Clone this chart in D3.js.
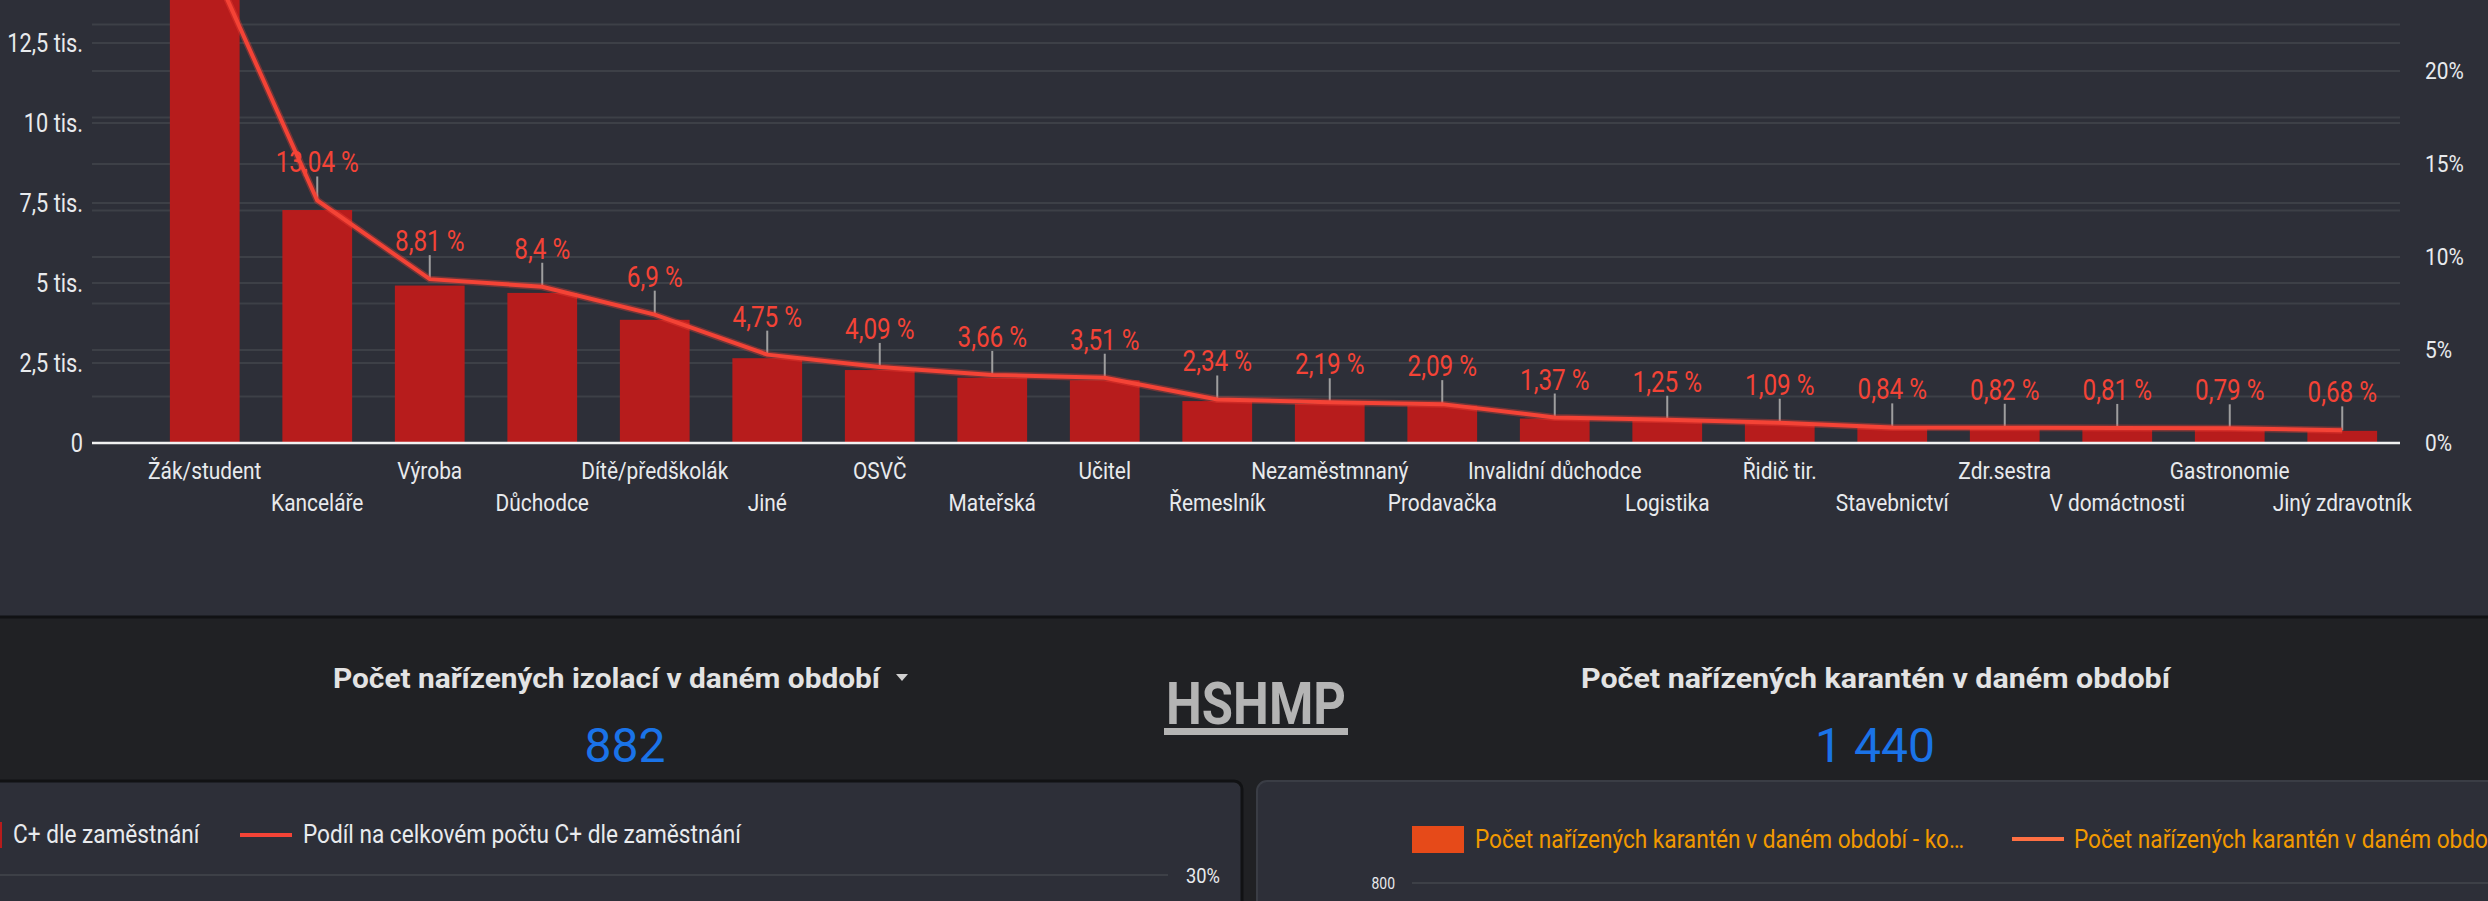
<!DOCTYPE html>
<html>
<head>
<meta charset="utf-8">
<script src="https://cdnjs.cloudflare.com/ajax/libs/d3/7.8.5/d3.min.js"></script>
<style>
  html, body { margin: 0; padding: 0; background: #202124; overflow: hidden; }
  svg { display: block; }
  text { font-family: Roboto, "Noto Sans", sans-serif; }
</style>
</head>
<body>
<div id="chart"></div>
<script>
// occupations (top 20), sorted by count
var categories = ["Žák/student", "Kanceláře", "Výroba", "Důchodce", "Dítě/předškolák", "Jiné", "OSVČ",
  "Mateřská", "Učitel", "Řemeslník", "Nezaměstmnaný", "Prodavačka", "Invalidní důchodce", "Logistika",
  "Řidič tir.", "Stavebnictví", "Zdr.sestra", "V domáctnosti", "Gastronomie", "Jiný zdravotník"];

// C+ dle zaměstnání (count)
var counts = [14800, 7280, 4920, 4690, 3850, 2650, 2280, 2040, 1960, 1310,
  1220, 1170, 765, 700, 610, 470, 458, 452, 441, 380];

// Podíl na celkovém počtu C+ dle zaměstnání (%)
var shares = [26.56, 13.04, 8.81, 8.4, 6.9, 4.75, 4.09, 3.66, 3.51, 2.34,
  2.19, 2.09, 1.37, 1.25, 1.09, 0.84, 0.82, 0.81, 0.79, 0.68];

var leftTicks = [0, 2500, 5000, 7500, 10000, 12500];
var rightTicks = [0, 5, 10, 15, 20];
var rightGrid = [2.5, 5, 7.5, 10, 12.5, 15, 17.5, 20, 22.5];

var isolationTitle = "Počet nařízených izolací v daném období";
var isolationValue = "882";
var quarantineTitle = "Počet nařízených karantén v daném období";
var quarantineValue = "1 440";
var brand = "HSHMP";
var legendLeft = ["C+ dle zaměstnání", "Podíl na celkovém počtu C+ dle zaměstnání"];
var legendRight = ["Počet nařízených karantén v daném období - ko…", "Počet nařízených karantén v daném období - kontakty"];

var W = 2488, H = 901;
var K = 0.87; // squeeze Roboto into a condensed look

var svg = d3.select("#chart").append("svg")
    .attr("width", W)
    .attr("height", H);

svg.append("rect").attr("width", W).attr("height", H).attr("fill", "#202124");

// panels
svg.append("rect")
    .attr("x", -20).attr("y", -30).attr("width", W + 40).attr("height", 647)
    .attr("rx", 8)
    .attr("fill", "#2d2f38").attr("stroke", "#111214").attr("stroke-width", 3);
svg.append("rect")
    .attr("x", -20).attr("y", 781).attr("width", 1262).attr("height", 200)
    .attr("rx", 8)
    .attr("fill", "#2d2f38").attr("stroke", "#111214").attr("stroke-width", 3);
svg.append("rect")
    .attr("x", 1257).attr("y", 781).attr("width", 1300).attr("height", 200)
    .attr("rx", 10)
    .attr("fill", "#2d2f38").attr("stroke", "#3a3d45").attr("stroke-width", 2);

function label(parent, str, x, y, size, fill, anchor, k) {
  return parent.append("text")
      .attr("transform", "translate(" + x + "," + y + ") scale(" + (k || K) + ",1)")
      .attr("text-anchor", anchor || "start")
      .attr("font-size", size)
      .attr("fill", fill)
      .text(str);
}

// ---- main pareto chart ----
var x0 = 92, x1 = 2400, base = 443;

var xscale = d3.scaleBand()
    .domain(categories)
    .range([148.5, 2398.5])
    .paddingInner(0.38)
    .paddingOuter(0.19);

var yleft = d3.scaleLinear().domain([0, 15000]).range([base, -37]);
var yright = d3.scaleLinear().domain([0, 25]).range([base, -22]);

var chart = svg.append("g");

// gridlines
chart.selectAll(".gl")
    .data(leftTicks.filter(d => d > 0))
    .enter().append("line")
    .attr("x1", x0).attr("x2", x1)
    .attr("y1", d => yleft(d)).attr("y2", d => yleft(d))
    .attr("stroke", "#3d4047").attr("stroke-width", 2);
chart.selectAll(".gr")
    .data(rightGrid)
    .enter().append("line")
    .attr("x1", x0).attr("x2", x1)
    .attr("y1", d => yright(d)).attr("y2", d => yright(d))
    .attr("stroke", "#3d4047").attr("stroke-width", 2);

// bars
chart.selectAll(".bar")
    .data(categories)
    .enter().append("rect")
    .attr("x", d => xscale(d))
    .attr("width", xscale.bandwidth())
    .attr("y", (d, i) => yleft(counts[i]))
    .attr("height", (d, i) => base - yleft(counts[i]))
    .attr("fill", "#b71c1c");

// baseline
chart.append("line")
    .attr("x1", x0).attr("x2", x1)
    .attr("y1", base).attr("y2", base)
    .attr("stroke", "#f1f1f1").attr("stroke-width", 2.5);

// left axis
var leftAxis = chart.append("g")
    .attr("transform", "translate(" + x0 + ",0)")
    .call(d3.axisLeft(yleft)
        .tickValues(leftTicks)
        .tickSize(0)
        .tickFormat(d => d == 0 ? "0" : String(d / 1000).replace(".", ",") + " tis."));
leftAxis.select(".domain").remove();
leftAxis.selectAll("text")
    .attr("x", null)
    .attr("transform", "translate(-9,0) scale(" + K + ",1)")
    .attr("font-size", 25)
    .attr("font-family", "Roboto")
    .attr("fill", "#e8eaed");

// right axis
var rightAxis = chart.append("g")
    .attr("transform", "translate(" + x1 + ",0)")
    .call(d3.axisRight(yright)
        .tickValues(rightTicks)
        .tickSize(0)
        .tickFormat(d => d + "%"));
rightAxis.select(".domain").remove();
rightAxis.selectAll("text")
    .attr("x", null)
    .attr("transform", "translate(25,0) scale(" + K + ",1)")
    .attr("font-size", 24)
    .attr("font-family", "Roboto")
    .attr("fill", "#e8eaed");

// category labels, staggered in two rows
categories.forEach(function(c, i) {
  var cx = xscale(c) + xscale.bandwidth() / 2;
  label(chart, c, cx, i % 2 == 0 ? 479 : 511, 24, "#e8eaed", "middle");
});

// leader lines + share labels
var cxOf = (d, i) => xscale(categories[i]) + xscale.bandwidth() / 2;
chart.selectAll(".lead")
    .data(shares)
    .enter().append("line")
    .attr("x1", cxOf).attr("x2", cxOf)
    .attr("y1", d => yright(d)).attr("y2", d => yright(d) - 24)
    .attr("stroke", "#9e9e9e").attr("stroke-width", 2);

var line = d3.line()
    .x((d, i) => cxOf(d, i))
    .y(d => yright(d));

chart.append("path")
    .datum(shares)
    .attr("d", line)
    .attr("fill", "none")
    .attr("stroke", "#f44336")
    .attr("stroke-opacity", 0.35)
    .attr("stroke-width", 7);
chart.append("path")
    .datum(shares)
    .attr("d", line)
    .attr("fill", "none")
    .attr("stroke", "#f44336")
    .attr("stroke-width", 4);

shares.forEach(function(p, i) {
  var ty = yright(p) - 28;
  if (ty < 30) return; // above the visible part of the panel
  label(chart, String(p).replace(".", ",") + " %", cxOf(p, i), ty, 30, "#f44336", "middle", 0.81);
});

// ---- scorecards ----
svg.append("text")
    .attr("x", 333).attr("y", 688)
    .attr("font-family", "'Open Sans', sans-serif")
    .attr("font-weight", 700)
    .attr("font-size", 28)
    .attr("textLength", 547)
    .attr("lengthAdjust", "spacingAndGlyphs")
    .attr("fill", "#e3e3e3")
    .text(isolationTitle);
svg.append("path")
    .attr("d", "M896,674 L908,674 L902,681 Z")
    .attr("fill", "#d0d0d0");
svg.append("text")
    .attr("x", 625).attr("y", 762)
    .attr("text-anchor", "middle")
    .attr("font-size", 48)
    .attr("fill", "#1a73e8")
    .text(isolationValue);

svg.append("text")
    .attr("x", 1581).attr("y", 688)
    .attr("font-family", "'Open Sans', sans-serif")
    .attr("font-weight", 700)
    .attr("font-size", 28)
    .attr("textLength", 589)
    .attr("lengthAdjust", "spacingAndGlyphs")
    .attr("fill", "#e3e3e3")
    .text(quarantineTitle);
svg.append("text")
    .attr("x", 1875).attr("y", 762)
    .attr("text-anchor", "middle")
    .attr("font-size", 48)
    .attr("fill", "#1a73e8")
    .text(quarantineValue);

label(svg, brand, 1256, 724, 59, "#b4b4b4", "middle", 0.86).attr("font-weight", 700);
svg.append("rect")
    .attr("x", 1164).attr("y", 728).attr("width", 184).attr("height", 7)
    .attr("fill", "#b4b4b4");

// ---- lower-left panel (legend + first gridline) ----
svg.append("rect")
    .attr("x", -30).attr("y", 822).attr("width", 32).attr("height", 26)
    .attr("fill", "#b71c1c");
label(svg, legendLeft[0], 13, 843, 26, "#e8eaed");
svg.append("line")
    .attr("x1", 240).attr("x2", 292).attr("y1", 835).attr("y2", 835)
    .attr("stroke", "#f44336").attr("stroke-width", 4);
label(svg, legendLeft[1], 303, 843, 26, "#e8eaed");
svg.append("line")
    .attr("x1", 0).attr("x2", 1168).attr("y1", 875).attr("y2", 875)
    .attr("stroke", "#3d4047").attr("stroke-width", 2);
label(svg, "30%", 1186, 883, 21, "#e8eaed");

// ---- lower-right panel ----
svg.append("rect")
    .attr("x", 1412).attr("y", 826).attr("width", 52).attr("height", 27)
    .attr("fill", "#e64a19");
label(svg, legendRight[0], 1475, 848, 26, "#f29900");
svg.append("line")
    .attr("x1", 2012).attr("x2", 2064).attr("y1", 839).attr("y2", 839)
    .attr("stroke", "#ff7043").attr("stroke-width", 4);
label(svg, legendRight[1], 2074, 848, 26, "#f29900");
svg.append("line")
    .attr("x1", 1412).attr("x2", W).attr("y1", 883).attr("y2", 883)
    .attr("stroke", "#3d4047").attr("stroke-width", 2);
label(svg, "800", 1395, 889, 16, "#e8eaed", "end");
</script>
</body>
</html>
